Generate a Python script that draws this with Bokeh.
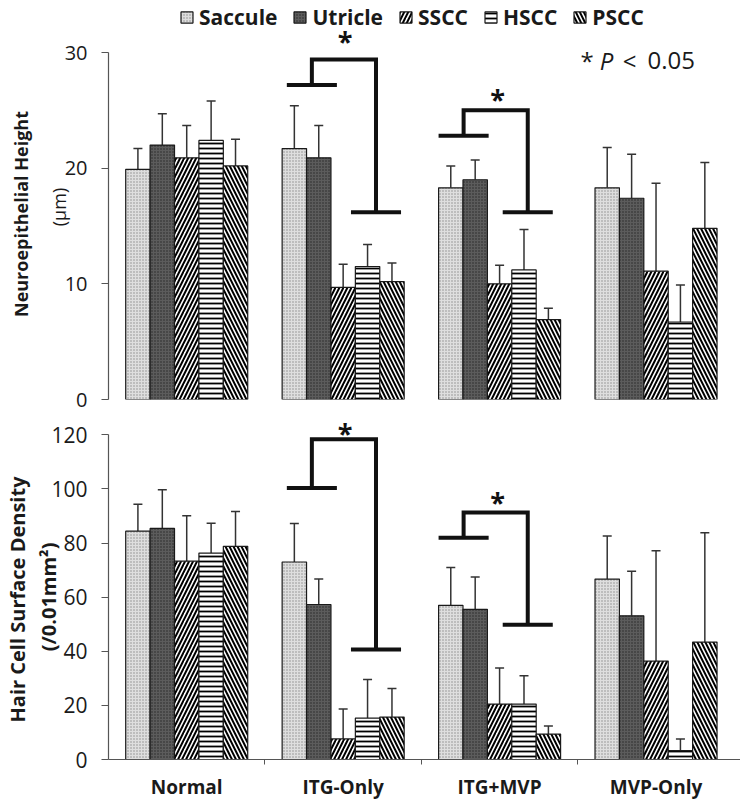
import math
from bokeh.plotting import figure
from bokeh.models import (ColumnDataSource, Range1d, FixedTicker, Whisker, TeeHead,
                          Label, Legend, LegendItem, LinearAxis)
from bokeh.layouts import column
from bokeh.embed import file_html
from bokeh.resources import INLINE

# ---------------- data ----------------
groups = ["Normal", "ITG-Only", "ITG+MVP", "MVP-Only"]
organs = ["Saccule", "Utricle", "SSCC", "HSCC", "PSCC"]

# Neuroepithelial height (µm): mean and SD for each group
height_saccule = [19.9, 21.7, 18.3, 18.3]
height_utricle = [22.0, 20.9, 19.0, 17.4]
height_sscc = [20.9, 9.7, 10.0, 11.1]
height_hscc = [22.4, 11.5, 11.2, 6.7]
height_pscc = [20.2, 10.2, 6.9, 14.8]
height_saccule_sd = [1.8, 3.7, 1.9, 3.5]
height_utricle_sd = [2.7, 2.8, 1.7, 3.8]
height_sscc_sd = [2.8, 2.0, 1.6, 7.6]
height_hscc_sd = [3.4, 1.9, 3.5, 3.2]
height_pscc_sd = [2.3, 1.6, 1.0, 5.7]

# Hair cell surface density (/0.01 mm²): mean and SD for each group
density_saccule = [84.4, 73.0, 57.0, 66.7]
density_utricle = [85.4, 57.3, 55.5, 53.1]
density_sscc = [73.3, 7.6, 20.5, 36.4]
density_hscc = [76.3, 15.3, 20.5, 3.3]
density_pscc = [78.8, 15.7, 9.4, 43.4]
density_saccule_sd = [10.0, 14.2, 14.0, 15.9]
density_utricle_sd = [14.3, 9.4, 12.0, 16.5]
density_sscc_sd = [16.8, 11.1, 13.3, 40.8]
density_hscc_sd = [11.0, 14.3, 10.5, 4.3]
density_pscc_sd = [12.9, 10.5, 3.0, 40.4]

height_ticks = [0, 10, 20, 30]
density_ticks = [0, 20, 40, 60, 80, 100, 120]

# significance brackets: group index and bracket levels
bracket_groups = [1, 2]
height_bracket_left = [27.2, 22.8]
height_bracket_top = [29.4, 25.0]
height_bracket_right = [16.2, 16.2]
height_star = [31.4, 26.4]
density_bracket_left = [100.4, 82.0]
density_bracket_top = [118.4, 91.3]
density_bracket_right = [40.7, 49.8]
density_star = [124.0, 98.3]

# ---------------- style ----------------
FONT = "Open Sans"
TXT = "#1a1a1a"
AXIS = "#555555"
NB = "\u00a0"
BAR_W = 0.156
ARM_DX_LEFT = [-0.20, -0.23]
ARM_DX_RIGHT = [0.21, 0.18]
ARM_HALF = 0.16
STAR_DX = [0.012, -0.013]

styles = {
    "Saccule": dict(fill_color="#dedede", hatch_pattern="dot", hatch_color="#8c8c8c",
                    hatch_scale=3, hatch_weight=1),
    "Utricle": dict(fill_color="#5c5c5c", hatch_pattern="dot", hatch_color="#262626",
                    hatch_scale=3, hatch_weight=1),
    "SSCC": dict(fill_color="white", hatch_pattern="right_diagonal_line", hatch_color="black",
                 hatch_scale=8, hatch_weight=2),
    "HSCC": dict(fill_color="white", hatch_pattern="horizontal_line", hatch_color="black",
                 hatch_scale=5, hatch_weight=1.8),
    "PSCC": dict(fill_color="white", hatch_pattern="left_diagonal_line", hatch_color="black",
                 hatch_scale=8, hatch_weight=2),
}


def style_yaxis(p, ticks, size, inner, inner_size, inner_style, inner_standoff,
                outer, outer_size, outer_style, outer_standoff):
    bounds = (ticks[0], ticks[-1])
    ax = p.yaxis[0]
    ax.ticker = FixedTicker(ticks=ticks)
    ax.bounds = bounds
    ax.major_tick_out = 7
    ax.major_tick_in = 0
    ax.minor_tick_out = 0
    ax.minor_tick_in = 0
    ax.axis_line_color = AXIS
    ax.axis_line_width = 1.2
    ax.major_tick_line_color = AXIS
    ax.major_tick_line_width = 1.2
    ax.major_label_standoff = 14
    ax.major_label_text_font = FONT
    ax.major_label_text_font_size = size
    ax.major_label_text_color = TXT
    ax.axis_label = inner
    ax.axis_label_text_font = FONT
    ax.axis_label_text_font_size = inner_size
    ax.axis_label_text_font_style = inner_style
    ax.axis_label_text_color = TXT
    ax.axis_label_standoff = inner_standoff
    ax2 = LinearAxis(ticker=FixedTicker(ticks=[]), bounds=bounds, axis_label=outer,
                     axis_line_color=None, major_tick_out=0, major_tick_in=0,
                     minor_tick_out=0, minor_tick_in=0, major_label_standoff=0,
                     axis_label_standoff=outer_standoff, axis_label_text_font=FONT,
                     axis_label_text_font_size=outer_size, axis_label_text_font_style=outer_style,
                     axis_label_text_color=TXT)
    p.add_layout(ax2, "left")


def draw_panel(p, means, sds, b_left, b_top, b_right, stars, star_offset):
    renderers = []
    for i, org in enumerate(organs):
        xs = [g + 0.5 + (i - 2) * BAR_W for g in range(len(groups))]
        hi = [m + s for m, s in zip(means[i], sds[i])]
        src = ColumnDataSource(dict(x=xs, top=means[i], hi=hi))
        r = p.vbar(x="x", top="top", bottom=0, width=BAR_W, source=src,
                   line_color="#1a1a1a", line_width=1.2, **styles[org])
        renderers.append(r)
        p.add_layout(Whisker(source=src, base="x", lower="top", upper="hi",
                             lower_head=None,
                             upper_head=TeeHead(size=9, line_color="#333333", line_width=1.5),
                             line_color="#333333", line_width=1.5))
    lx = [g + 0.5 + d for g, d in zip(bracket_groups, ARM_DX_LEFT)]
    rx = [g + 0.5 + d for g, d in zip(bracket_groups, ARM_DX_RIGHT)]
    p.segment(x0=[x - ARM_HALF for x in lx], x1=[x + ARM_HALF for x in lx],
              y0=b_left, y1=b_left, line_width=4, line_color="#111111", line_cap="butt")
    p.segment(x0=[x - ARM_HALF for x in rx], x1=[x + ARM_HALF for x in rx],
              y0=b_right, y1=b_right, line_width=4, line_color="#111111", line_cap="butt")
    p.multi_line(xs=[[a, a, b, b] for a, b in zip(lx, rx)],
                 ys=[[l, t, t, r] for l, t, r in zip(b_left, b_top, b_right)],
                 line_width=4, line_color="#111111", line_join="miter", line_cap="butt")
    for g, d, sy in zip(bracket_groups, STAR_DX, stars):
        p.add_layout(Label(x=g + 0.5 + d, y=sy, text="*", text_align="center",
                           text_baseline="middle", y_offset=star_offset, text_font=FONT,
                           text_font_style="bold", text_font_size="27px", text_color="#111111"))
    return renderers


def base_fig(h, ymax, bottom):
    p = figure(width=740, height=h, x_range=Range1d(0, 4.04), y_range=Range1d(0, ymax),
               output_backend="svg", toolbar_location=None,
               min_border_left=107, min_border_right=0, min_border_top=0, min_border_bottom=bottom)
    p.xgrid.visible = False
    p.ygrid.visible = False
    p.outline_line_color = None
    p.background_fill_color = "white"
    p.border_fill_color = "white"
    return p


# ---------------- top panel ----------------
p1 = base_fig(413, 34.5, 14)
p1.xaxis.visible = False
style_yaxis(p1, height_ticks, "20px", "(µm)" + NB * 3, "18px", "normal", -9,
            "Neuroepithelial Height" + NB * 6, "18px", "bold", 11)
r1 = draw_panel(p1,
                [height_saccule, height_utricle, height_sscc, height_hscc, height_pscc],
                [height_saccule_sd, height_utricle_sd, height_sscc_sd, height_hscc_sd, height_pscc_sd],
                height_bracket_left, height_bracket_top, height_bracket_right, height_star, -4)

for tx, t, st in [(3.018, "*", "normal"), (3.14, "P", "italic"), (3.287, "<", "normal"),
                  (3.446, "0.05", "normal")]:
    p1.add_layout(Label(x=tx, y=29.3, text=t, text_align="left", text_baseline="middle",
                        text_font=FONT, text_font_size="24px", text_font_style=st,
                        text_color=TXT))

legend = Legend(items=[LegendItem(label=o, renderers=[r]) for o, r in zip(organs, r1)],
                orientation="horizontal", location=(71, 368), margin=0, padding=2,
                spacing=15, label_standoff=5, glyph_width=15, glyph_height=14,
                label_text_font=FONT, label_text_font_style="bold", label_text_font_size="21px",
                label_text_color=TXT, border_line_color=None, background_fill_alpha=0)
p1.add_layout(legend)

# ---------------- bottom panel ----------------
p2 = base_fig(389, 127.9, 35)
style_yaxis(p2, density_ticks, "21px", "(/0.01mm²)" + NB * 4, "20px", "bold", -14,
            "Hair Cell Surface Density" + NB * 5, "20px", "bold", 2)
draw_panel(p2,
           [density_saccule, density_utricle, density_sscc, density_hscc, density_pscc],
           [density_saccule_sd, density_utricle_sd, density_sscc_sd, density_hscc_sd, density_pscc_sd],
           density_bracket_left, density_bracket_top, density_bracket_right, density_star, -8)
xa = p2.xaxis[0]
xa.ticker = FixedTicker(ticks=[g + 0.5 for g in range(len(groups))],
                        minor_ticks=list(range(1, len(groups))))
xa.major_label_overrides = {g + 0.5: name for g, name in enumerate(groups)}
xa.major_tick_out = 0
xa.major_tick_in = 0
xa.minor_tick_out = 5
xa.minor_tick_in = 0
xa.axis_line_color = AXIS
xa.axis_line_width = 1.2
xa.minor_tick_line_color = AXIS
xa.major_label_standoff = 9
xa.major_label_text_font = FONT
xa.major_label_text_font_style = "bold"
xa.major_label_text_font_size = "19px"
xa.major_label_text_color = TXT

layout = column(p1, p2)
open("out.html", "w").write(file_html(layout, INLINE))
